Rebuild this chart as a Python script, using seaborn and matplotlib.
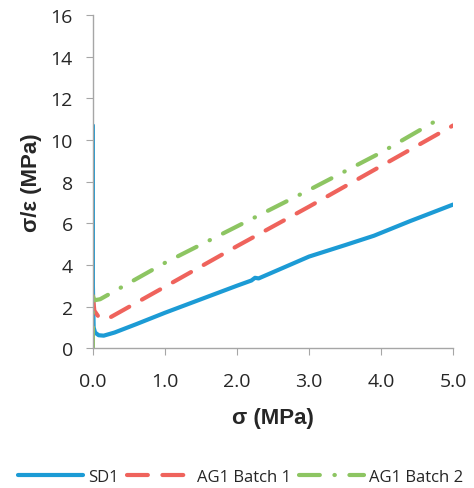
import pandas as pd
import numpy as np
import matplotlib
matplotlib.use("Agg")
import matplotlib.pyplot as plt
import seaborn as sns

# data
sd1_x = [0.0, 0.0, 0.01, 0.03, 0.08, 0.15, 0.3, 0.6, 1.0, 1.5, 2.0, 2.2, 2.25, 2.3, 2.6, 3.0, 3.5, 3.9, 4.4, 5.0]
sd1_y = [10.7, 3.0, 1.0, 0.75, 0.62, 0.6, 0.75, 1.15, 1.7, 2.35, 3.0, 3.25, 3.38, 3.35, 3.8, 4.4, 4.95, 5.4, 6.1, 6.9]
ag1_x = [0.0, 0.02, 0.08, 0.2, 1.0, 2.0, 3.0, 4.0, 5.0]
ag1_y = [2.5, 1.8, 1.5, 1.4, 2.95, 4.9, 6.8, 8.75, 10.7]
ag2_x = [0.0, 0.0, 0.02, 0.1, 1.0, 2.0, 3.0, 4.0, 4.8]
ag2_y = [0.0, 2.5, 2.3, 2.35, 4.1, 5.85, 7.6, 9.4, 11.0]
series = ["SD1", "AG1 Batch 1", "AG1 Batch 2"]

df = pd.concat([
    pd.DataFrame({"x": sd1_x, "y": sd1_y, "s": series[0]}),
    pd.DataFrame({"x": ag1_x, "y": ag1_y, "s": series[1]}),
    pd.DataFrame({"x": ag2_x, "y": ag2_y, "s": series[2]}),
], ignore_index=True)

sns.set_style("white")
plt.rcParams['font.family'] = ['Open Sans', 'DejaVu Sans']

colors = {"SD1": "#1C9BD5", "AG1 Batch 1": "#EF635C", "AG1 Batch 2": "#8DC562"}
dashes = {"SD1": "", "AG1 Batch 1": (5, 3.5), "AG1 Batch 2": (5, 3.5, 0.1, 3.5)}

fig = plt.figure(figsize=(4.74, 4.89), dpi=100)
ax = fig.add_axes([0.196, 0.286, 0.76, 0.681])
sns.lineplot(data=df, x="x", y="y", hue="s", style="s", palette=colors,
             dashes=dashes, sort=False, estimator=None, lw=3,
             solid_capstyle="round", dash_capstyle="round", ax=ax)

ax.set_xlim(0, 5)
ax.set_ylim(0, 16)
ax.set_xticks(np.arange(0, 5.1, 1.0))
ax.set_xticklabels([f"{v:.1f}" for v in np.arange(0, 5.1, 1.0)])
ax.set_yticks(range(0, 17, 2))
ax.tick_params(axis="both", labelsize=14, length=5, color="#A6A6A6", direction="out",
               bottom=True, left=True)
ax.tick_params(axis="x", pad=12.5)
ax.tick_params(axis="y", pad=9.5)
for sp in ["top", "right"]:
    ax.spines[sp].set_visible(False)
for sp in ["left", "bottom"]:
    ax.spines[sp].set_color("#A6A6A6")
    ax.spines[sp].set_linewidth(1)

ax.set_xlabel("σ (MPa)", fontsize=16, fontweight="bold", family="Liberation Sans", labelpad=12)
ax.set_ylabel("σ/ε (MPa)", fontsize=16, fontweight="bold", family="Liberation Sans", labelpad=6)

h, l = ax.get_legend_handles_labels()
ax.legend_.remove()
fig.legend(h, l, loc="center", bbox_to_anchor=(0.507, 0.022), ncol=3, frameon=False,
           fontsize=12, handlelength=3.9, columnspacing=0.5, handletextpad=0.3)

fig.savefig("out.png", dpi=100)
